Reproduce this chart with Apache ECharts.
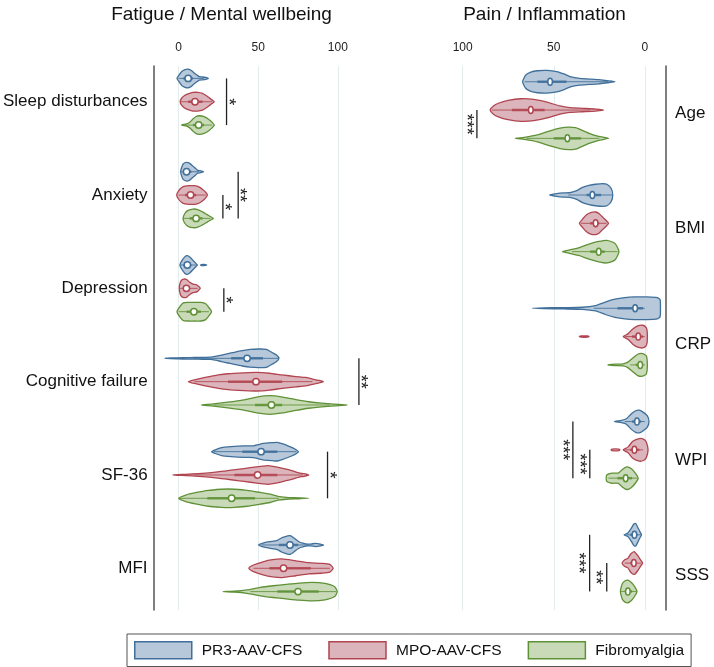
<!DOCTYPE html>
<html><head><meta charset="utf-8">
<script src="https://cdn.jsdelivr.net/npm/echarts@6/dist/echarts.min.js"></script>
<style>html,body{margin:0;padding:0;background:#fff}#chart{width:714px;height:667px}</style>
</head><body><div id="chart"></div>
<script>
// ---------------- DATA ----------------
const fatigueCategories = ['Sleep disturbances', 'Anxiety', 'Depression', 'Cognitive failure', 'SF-36', 'MFI'];
const painCategories = ['Age', 'BMI', 'CRP', 'WPI', 'SSS'];
const groupNames = ['PR3-AAV-CFS', 'MPO-AAV-CFS', 'Fibromyalgia'];
const fatigueTicks = [0, 50, 100];
const painTicks = [0, 50, 100];

// Fatigue / Mental wellbeing: density profiles [value, relative density]
const pr3FatigueDensity = [
  [[-1,0],[0,0.3],[2,0.75],[4,0.95],[6,1],[8,0.85],[10,0.55],[12,0.3],[13,0.18],[15,0.15],[17,0.1],[18.7,0]],
  [[1.3,0],[2,0.5],[3,0.85],[5,1],[7,0.9],[9,0.6],[11,0.3],[12,0.15],[14,0.1],[15.7,0]],
  [[0.8,0],[2,0.45],[4,0.9],[5.5,1],[7,0.85],[9,0.5],[11,0.15],[11.8,0],[13.8,0],[14.3,0.05],[16,0.06],[17.7,0]],
  [[-8.7,0],[-5,0.04],[0,0.06],[5,0.08],[10,0.09],[15,0.1],[20,0.12],[23,0.2],[27,0.35],[31,0.5],[35,0.65],[40,0.82],[45,0.95],[50,1],[55,0.97],[59,0.6],[61.5,0.35],[63,0]],
  [[20.7,0],[23,0.2],[27,0.42],[33,0.53],[41,0.62],[47,0.63],[50,0.75],[53,0.88],[59,0.97],[62,1],[65,0.85],[69,0.6],[72,0.38],[75.2,0]],
  [[50.2,0],[53,0.2],[57,0.35],[62,0.5],[65,0.78],[68.5,0.97],[70,1],[72,0.8],[75.5,0.35],[78.5,0.18],[81,0.1],[83,0.1],[86,0.17],[89,0.1],[91,0]]
];
const pr3FatigueMedian = [6, 5, 5.5, 43, 51.8, 69.9];
const pr3FatigueBox = [[3,9],[3,8],[3,8],[33,53],[40,62],[63,75]];
const pr3FatigueWhisker = [[0,16],[1,13],[1,11],[10,63],[22,74],[52,82]];

const mpoFatigueDensity = [
  [[1,0],[2,0.4],[4,0.7],[6,0.85],[9,1],[12,1],[15,0.9],[17,0.7],[19,0.45],[21,0.2],[22.4,0]],
  [[-1.2,0],[0,0.45],[2,0.8],[4,0.95],[7,1],[10,1],[13,0.85],[15.5,0.55],[17,0.3],[18.1,0]],
  [[0.4,0],[1,0.6],[2,0.9],[3.5,1],[5,0.95],[7,0.65],[9,0.45],[11,0.4],[12.5,0.22],[13.6,0]],
  [[6.1,0],[10.6,0.22],[16.7,0.45],[25,0.72],[31,0.85],[41,0.95],[49,1],[57,0.9],[65,0.72],[73.6,0.55],[79.7,0.45],[83.7,0.3],[87.8,0.15],[90.9,0]],
  [[-3.7,0],[4.5,0.07],[12.6,0.14],[20.7,0.25],[28.9,0.42],[37,0.6],[45,0.78],[53,0.95],[56,1],[59.3,0.92],[65.4,0.7],[71.5,0.45],[75.6,0.22],[78.7,0.14],[81.7,0]],
  [[44.1,0],[47,0.35],[53,0.7],[59,0.92],[65,1],[73.6,0.8],[81.7,0.6],[89.8,0.53],[94.9,0.42],[97,0]]
];
const mpoFatigueMedian = [10.3, 7.5, 4.9, 48.6, 49.6, 65.9];
const mpoFatigueBox = [[6,15],[4,11],[3,7],[31,65],[35,62],[57,83]];
const mpoFatigueWhisker = [[1,21],[0,17],[1,12],[10,84],[10,78],[47,95]];

const fmFatigueDensity = [
  [[1.8,0],[5,0.12],[7,0.3],[9,0.65],[11,0.92],[13,1],[16,0.9],[19,0.6],[21,0.3],[22.4,0]],
  [[2.8,0],[4,0.55],[6,0.85],[9,1],[12,0.95],[15,0.7],[18,0.4],[20.5,0.15],[21.8,0]],
  [[-1,0],[1,0.6],[3,0.95],[6,1],[10,1],[14,1],[17,0.85],[19,0.45],[20.7,0]],
  [[14.2,0],[20.7,0.1],[30.9,0.3],[41,0.55],[49,0.85],[57.3,1],[65.4,0.85],[73.6,0.58],[81.7,0.35],[89.8,0.2],[98,0.1],[106,0]],
  [[0,0],[4.5,0.35],[10.6,0.6],[18.7,0.85],[26.8,0.97],[31,1],[35,0.97],[43,0.85],[51.2,0.63],[57.3,0.45],[62.4,0.2],[67.5,0.1],[75.6,0.05],[81.7,0]],
  [[27.9,0],[35,0.04],[43,0.18],[51.2,0.45],[59.3,0.63],[67.5,0.78],[75.6,0.92],[83.7,1],[91.9,0.88],[98,0.53],[99.6,0]]
];
const fmFatigueMedian = [12.6, 11, 9.6, 58.3, 33.3, 75];
const fmFatigueBox = [[9,16],[7,15],[5,14],[48,65],[18,48],[62,88]];
const fmFatigueWhisker = [[4,21],[3,20],[0,19],[22,95],[0,63],[45,99]];

// Pain / Inflammation
const pr3PainDensity = [
  [[67.1,0],[65.3,0.6],[62.6,0.85],[59,0.97],[53.7,1],[48.4,0.9],[44,0.67],[40.4,0.42],[35.9,0.3],[30.6,0.24],[25.3,0.18],[20.8,0.09],[16.4,0]],
  [[52.3,0],[48.4,0.12],[44.8,0.18],[41.3,0.2],[37.7,0.36],[34.2,0.67],[30.6,0.85],[27,0.95],[23,1],[20.8,0.95],[18.5,0.6],[17.6,0]],
  [[61.7,0],[55.5,0.03],[44.8,0.06],[34.2,0.09],[27,0.24],[21.7,0.55],[16.4,0.8],[11,0.94],[5.7,1],[-1.4,1],[-6.8,0.94],[-8.4,0.75],[-8.6,0]],
  [[16.7,0],[12.8,0.1],[10.1,0.24],[7.5,0.67],[5,0.95],[3,1],[1.2,0.85],[-1.4,0.5],[-2.3,0]],
  [[11.4,0],[9.3,0.15],[7.5,0.55],[6,0.95],[5,1],[3.9,0.67],[2.8,0.3],[1.8,0]]
];
const pr3PainMedian = [52, 28.8, 5.3, 4.3, 5.7];
const pr3PainBox = [[43,59],[24,32],[1,15],[2,7],[4,8]];
const pr3PainWhisker = [[20,66],[18,42],[0,28],[0,11],[2,10]];

const mpoPainDensity = [
  [[84.9,0],[83.1,0.36],[80.4,0.6],[75.1,0.85],[68,1],[60.9,0.94],[53.7,0.7],[46.6,0.36],[41.3,0.21],[34.2,0.15],[27,0.09],[22.6,0]],
  [[35.9,0],[34,0.4],[32,0.75],[29.7,0.95],[27,1],[25,0.85],[23.5,0.6],[21.5,0.3],[19.9,0]],
  [[36,0],[35,0.05],[31.5,0.05],[30.6,0],[11.9,0],[9.3,0.24],[6.6,0.67],[3.9,0.94],[1.2,1],[-0.5,0.85],[-1.2,0.6],[-1.4,0]],
  [[18.5,0],[18,0.07],[14.2,0.07],[13.7,0],[11.9,0],[9.3,0.24],[6.6,0.75],[3,1],[0.5,0.92],[-0.8,0.7],[-1.8,0]],
  [[12.5,0],[11,0.3],[9.3,0.42],[7.5,0.85],[5.7,1],[3.6,0.6],[2.2,0.25],[1.2,0]]
];
const mpoPainMedian = [62.6, 27, 3.6, 5.7, 6];
const mpoPainBox = [[55,73],[25,30],[1,7],[3,8],[4.5,8]];
const mpoPainWhisker = [[30,84],[21,35],[0,11],[1,11],[2,11]];

const fmPainDensity = [
  [[71.2,0],[66.2,0.09],[59,0.3],[52,0.67],[46.6,0.9],[42,1],[38,0.95],[35.9,0.82],[30.6,0.45],[25.3,0.18],[19.9,0]],
  [[45.2,0],[41.3,0.15],[35.9,0.36],[30.6,0.67],[25.3,0.9],[20.8,1],[16.4,0.73],[14.2,0]],
  [[20.3,0],[16.4,0.06],[11.9,0.09],[9.3,0.24],[6.6,0.6],[3.9,0.94],[1.2,1],[-0.8,0.8],[-1.4,0]],
  [[21.2,0],[20.8,0.3],[18.1,0.45],[14.6,0.45],[12.5,0.75],[10.1,1],[7.5,0.85],[4.8,0.36],[3.6,0]],
  [[13.4,0],[13,0.35],[12.3,0.7],[11,0.92],[9.3,1],[7.1,0.75],[5.3,0.36],[4.3,0]]
];
const fmPainMedian = [42.5, 25.3, 2.5, 10.5, 9.3];
const fmPainBox = [[35,50],[22,30],[1,5],[7,15],[7,11]];
const fmPainWhisker = [[25,65],[15,40],[0,8],[4,20],[4.5,13]];

// significance brackets: [x value, category (1-based), from group, to group]
const fatigueBrackets = [[30.1,1,0,2],[27.8,2,1,2],[37.4,2,0,2],[28.4,3,1,2],[113.2,4,0,2],[93.5,5,0,2]];
const fatigueStars = ['*','*','**','*','**','*'];
const painBrackets = [[92.2,1,1,2],[39.5,4,0,2],[30.2,4,1,2],[30.3,5,0,2],[20.9,5,1,2]];
const painStars = ['***','***','***','***','**'];

// ---------------- STYLE ----------------
const FONT = '"Liberation Sans", Arial, Helvetica, sans-serif';
const strokeColors = ['#3f6f9a', '#b0444f', '#5f9137'];
const fillColors = ['#b6c8d9', '#dcb4bb', '#c8dab7'];
const GROUP_OFFSET = [-0.25, 0, 0.25];
const HALF = 0.1;

function splitSegments(profile) {
  const segs = []; let cur = [];
  for (let i = 0; i < profile.length; i++) {
    cur.push(profile[i]);
    if (profile[i][1] === 0 && i + 1 < profile.length && profile[i + 1][1] === 0 && cur.length > 1) {
      segs.push(cur); cur = [];
    }
  }
  if (cur.length > 1) segs.push(cur);
  return segs;
}

function violinRender(densities, g, round) {
  return function (params, api) {
    const cat = api.value(1);
    const yc = cat + GROUP_OFFSET[g];
    const profile = densities[params.dataIndex];
    const children = [];
    splitSegments(profile).forEach(seg => {
      const top = seg.map(p => api.coord([p[0], yc - p[1] * HALF]));
      const bot = seg.slice().reverse().filter(p => p[1] > 0).map(p => api.coord([p[0], yc + p[1] * HALF]));
      children.push({type: 'polygon', shape: {points: top.concat(bot), smooth: 0.2},
        style: {fill: fillColors[g], stroke: strokeColors[g], lineWidth: 1.3, lineJoin: 'round'}});
    });
    const lo = api.coord([api.value(4), yc]), hi = api.coord([api.value(5), yc]);
    children.push({type: 'line', shape: {x1: lo[0], y1: lo[1], x2: hi[0], y2: hi[1]}, style: {stroke: strokeColors[g], lineWidth: 1, opacity: 0.85}});
    const q1 = api.coord([api.value(2), yc]), q3 = api.coord([api.value(3), yc]);
    children.push({type: 'line', shape: {x1: q1[0], y1: q1[1], x2: q3[0], y2: q3[1]}, style: {stroke: strokeColors[g], lineWidth: 2.5, opacity: 0.85}});
    const m = api.coord([api.value(0), yc]);
    if (round) {
      children.push({type: 'circle', shape: {cx: m[0], cy: m[1], r: 3.2}, style: {fill: '#fff', stroke: strokeColors[g], lineWidth: 1.5}});
    } else {
      children.push({type: 'ellipse', shape: {cx: m[0], cy: m[1], rx: 2.3, ry: 3.5}, style: {fill: '#fff', stroke: strokeColors[g], lineWidth: 1.5}});
    }
    return {type: 'group', children};
  };
}

function bracketRender(stars, dx) {
  return function (params, api) {
    const x = api.value(0), cat = api.value(1);
    const a = api.coord([x, cat + GROUP_OFFSET[api.value(2)]]);
    const b = api.coord([x, cat + GROUP_OFFSET[api.value(3)]]);
    return {type: 'group', children: [
      {type: 'line', shape: {x1: a[0], y1: a[1], x2: b[0], y2: b[1]}, style: {stroke: '#222', lineWidth: 1.3}},
      {type: 'text', x: a[0] + dx, y: (a[1] + b[1]) / 2, rotation: -Math.PI / 2,
        style: {text: stars[params.dataIndex], align: 'center', verticalAlign: 'middle', font: '18px ' + FONT, fill: '#222'}}
    ]};
  };
}

function violinData(median, box, whisk) {
  return median.map((m, i) => [m, i + 1, box[i][0], box[i][1], whisk[i][0], whisk[i][1]]);
}

const fatigueSets = [
  [pr3FatigueDensity, pr3FatigueMedian, pr3FatigueBox, pr3FatigueWhisker],
  [mpoFatigueDensity, mpoFatigueMedian, mpoFatigueBox, mpoFatigueWhisker],
  [fmFatigueDensity, fmFatigueMedian, fmFatigueBox, fmFatigueWhisker]
];
const painSets = [
  [pr3PainDensity, pr3PainMedian, pr3PainBox, pr3PainWhisker],
  [mpoPainDensity, mpoPainMedian, mpoPainBox, mpoPainWhisker],
  [fmPainDensity, fmPainMedian, fmPainBox, fmPainWhisker]
];

const series = [];
fatigueSets.forEach((s, g) => series.push({
  type: 'custom', name: groupNames[g], xAxisIndex: 0, yAxisIndex: 0,
  itemStyle: {color: fillColors[g], borderColor: strokeColors[g]},
  renderItem: violinRender(s[0], g, true), encode: {x: [0, 2, 3, 4, 5], y: 1},
  data: violinData(s[1], s[2], s[3]), silent: true
}));
painSets.forEach((s, g) => series.push({
  type: 'custom', name: groupNames[g], xAxisIndex: 1, yAxisIndex: 1,
  itemStyle: {color: fillColors[g], borderColor: strokeColors[g]},
  renderItem: violinRender(s[0], g, false), encode: {x: [0, 2, 3, 4, 5], y: 1},
  data: violinData(s[1], s[2], s[3]), silent: true
}));
series.push({type: 'custom', name: 'sigF', xAxisIndex: 0, yAxisIndex: 0, silent: true,
  renderItem: bracketRender(fatigueStars, 1.2), encode: {x: 0, y: 1}, data: fatigueBrackets});
series.push({type: 'custom', name: 'sigP', xAxisIndex: 1, yAxisIndex: 1, silent: true,
  renderItem: bracketRender(painStars, -11.3), encode: {x: 0, y: 1}, data: painBrackets});

const xCommon = (ticks) => ({
  type: 'value', position: 'top',
  axisLine: {show: false, onZero: false},
  axisTick: {show: false, customValues: ticks},
  axisLabel: {customValues: ticks, margin: 12, fontSize: 12, color: '#222', fontFamily: FONT},
  splitLine: {show: true, lineStyle: {color: '#e4eded', width: 1}}
});

const option = {
  animation: false,
  backgroundColor: '#fff',
  graphic: [
    {type: 'text', x: 221.5, y: 15, style: {text: 'Fatigue / Mental wellbeing', align: 'center', verticalAlign: 'middle', font: '19px ' + FONT, fill: '#111'}},
    {type: 'text', x: 544.5, y: 15, style: {text: 'Pain / Inflammation', align: 'center', verticalAlign: 'middle', font: '19px ' + FONT, fill: '#111'}}
  ],
  grid: [
    {left: 147, top: 66, width: 230.7, height: 544},
    {left: 453.6, top: 66, width: 219.4, height: 544}
  ],
  xAxis: [
    Object.assign(xCommon(fatigueTicks), {gridIndex: 0, min: -15.7, max: 125}),
    Object.assign(xCommon(painTicks), {gridIndex: 1, min: -11.7, max: 105, inverse: true})
  ],
  yAxis: [
    {gridIndex: 0, type: 'value', inverse: true, min: 0.617, max: 6.447, position: 'left',
      axisLine: {show: true, onZero: false, lineStyle: {color: '#555', width: 1.5}}, axisTick: {show: false}, splitLine: {show: false},
      axisLabel: {customValues: [1, 2, 3, 4, 5, 6], formatter: v => fatigueCategories[Math.round(v) - 1], margin: 6, fontSize: 17, color: '#111', fontFamily: FONT}},
    {gridIndex: 1, type: 'value', inverse: true, min: 0.611, max: 5.414, position: 'right',
      axisLine: {show: true, onZero: false, lineStyle: {color: '#555', width: 1.5}}, axisTick: {show: false}, splitLine: {show: false}, axisLabel: {show: false}},
    {gridIndex: 1, type: 'value', inverse: true, min: 0.593, max: 5.299, position: 'right',
      axisLine: {show: false, onZero: false}, axisTick: {show: false}, splitLine: {show: false},
      axisLabel: {customValues: [1, 2, 3, 4, 5], formatter: v => painCategories[Math.round(v) - 1], margin: 9, fontSize: 17, color: '#111', fontFamily: FONT}}
  ],
  legend: {
    left: 127, top: 634, orient: 'horizontal',
    padding: [7, 7, 7, 7], itemWidth: 57, itemHeight: 17, itemGap: 26,
    borderColor: '#555', borderWidth: 1, backgroundColor: '#fff',
    textStyle: {fontSize: 15.5, color: '#111', fontFamily: FONT, padding: [0, 0, 0, 5]},
    data: groupNames.map((n, i) => ({name: n, icon: 'rect', itemStyle: {color: fillColors[i], borderColor: strokeColors[i], borderWidth: 1.5}}))
  },
  series
};

const chart = echarts.init(document.getElementById('chart'), null, {renderer: 'canvas'});
chart.setOption(option);
</script>
</body></html>
